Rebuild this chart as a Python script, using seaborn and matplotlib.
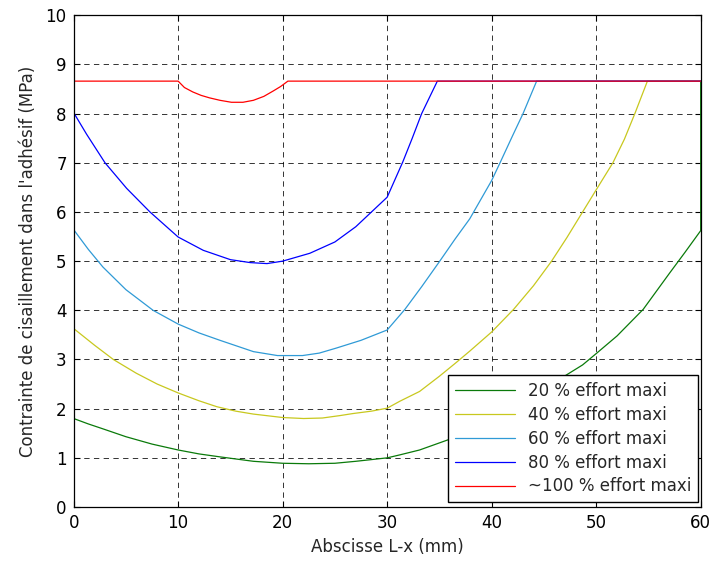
import numpy as np
import pandas as pd
import seaborn as sns
import matplotlib.pyplot as plt

# values (x in mm, stress in MPa)
x20 = [0, 1.4, 2.8, 5, 7.5, 10, 12, 14, 17.2, 20, 22.5, 25, 27, 28.3, 30, 31.2, 33.1, 36, 40, 44,
       48.7, 50, 52, 54.5, 57, 58.5, 60, 60]
y20 = [1.80, 1.69, 1.59, 1.43, 1.28, 1.16, 1.08, 1.02, 0.93, 0.89, 0.88, 0.89, 0.93, 0.96, 1.00, 1.06,
       1.16, 1.38, 1.78, 2.27, 2.89, 3.12, 3.48, 4.02, 4.75, 5.18, 5.62, 8.66]

x40 = [0, 2, 3.8, 6, 8, 10, 12, 13.7, 15.5, 17.2, 20, 22, 23.8, 25.5, 26.7, 28.5, 30, 31.2, 33.1,
       35, 36.5, 37.9, 40, 42.1, 44, 45.7, 47.2, 48.7, 50, 51.6, 52.7, 53.7, 54.9, 60]
y40 = [3.63, 3.29, 3.00, 2.72, 2.50, 2.32, 2.16, 2.04, 1.95, 1.89, 1.82, 1.80, 1.81, 1.86, 1.90, 1.95,
       2.01, 2.15, 2.35, 2.66, 2.92, 3.17, 3.56, 4.02, 4.50, 4.99, 5.48, 6.00, 6.45, 7.00, 7.48, 8.00,
       8.66, 8.66]

x60 = [0, 1.4, 2.8, 5, 7.6, 10, 12, 14, 17.2, 19.5, 21.9, 23.5, 25.1, 27.5, 30, 31.7, 33.3, 35,
       36.5, 37.9, 40, 40.8, 42, 43, 44.3, 60]
y60 = [5.64, 5.24, 4.88, 4.42, 4.00, 3.72, 3.54, 3.39, 3.16, 3.08, 3.08, 3.13, 3.23, 3.39, 3.60, 4.02,
       4.48, 4.99, 5.45, 5.86, 6.64, 7.00, 7.55, 8.00, 8.66, 8.66]

x80 = [0, 1.24, 3.0, 5.07, 7.3, 10, 12.4, 15, 16.9, 18.5, 20, 22.6, 25, 27, 28.5, 30, 31.5, 32.4,
       33.3, 34.8, 60]
y80 = [8.02, 7.58, 7.00, 6.48, 6.00, 5.49, 5.22, 5.03, 4.97, 4.95, 5.00, 5.16, 5.39, 5.70, 6.00, 6.30,
       7.02, 7.50, 8.00, 8.66, 8.66]

x100 = [0, 10, 10.6, 11.4, 12.2, 13.0, 14, 15.1, 16.2, 17.2, 18.2, 19.1, 19.8, 20.5, 60]
y100 = [8.66, 8.66, 8.53, 8.44, 8.37, 8.32, 8.27, 8.23, 8.23, 8.27, 8.35, 8.46, 8.55, 8.66, 8.66]

labels = ['20 % effort maxi', '40 % effort maxi', '60 % effort maxi',
          '80 % effort maxi', '~100 % effort maxi']
colors = ['#0a7a0a', '#c8c81e', '#2f9ad6', '#0000ff', '#ff0000']

sns.set_style("ticks")
plt.rcParams['font.family'] = ['DejaVu Sans']
plt.rcParams['font.size'] = 12

fig = plt.figure(figsize=(7.15, 5.64), dpi=100)
ax = fig.add_axes([0.103, 0.101, 0.877, 0.872])

series = [(x20, y20), (x40, y40), (x60, y60), (x80, y80), (x100, y100)]
for (xs, ys), lab, col in zip(series, labels, colors):
    sns.lineplot(x=xs, y=ys, sort=False, estimator=None, color=col,
                 linewidth=0.9, label=lab, ax=ax)

ax.set_xlim(0, 60)
ax.set_ylim(0, 10)
ax.set_xticks(np.arange(0, 61, 10))
ax.set_yticks(np.arange(0, 11, 1))
ax.grid(True, color='black', linestyle=(0, (5.5, 4.5)), linewidth=0.7, alpha=0.8)
ax.set_axisbelow(True)
ax.tick_params(direction='in', length=4, width=0.8, top=True, right=True,
               labelsize=12, pad=5, colors='black')
for sp in ax.spines.values():
    sp.set_visible(True)
    sp.set_color('black')
    sp.set_linewidth(0.9)

ax.set_xlabel('Abscisse L-x (mm)', fontsize=12, labelpad=4)
ax.set_ylabel("Contrainte de cisaillement dans l'adhésif (MPa)", fontsize=12, labelpad=6)

leg = ax.legend(loc='lower right', bbox_to_anchor=(0.996, 0.01), fancybox=False,
                framealpha=1, edgecolor='black', fontsize=12, handlelength=3.6,
                borderaxespad=0, labelspacing=0.35, borderpad=0.4)
leg.get_frame().set_linewidth(1.0)

fig.savefig('out.png', dpi=100)
